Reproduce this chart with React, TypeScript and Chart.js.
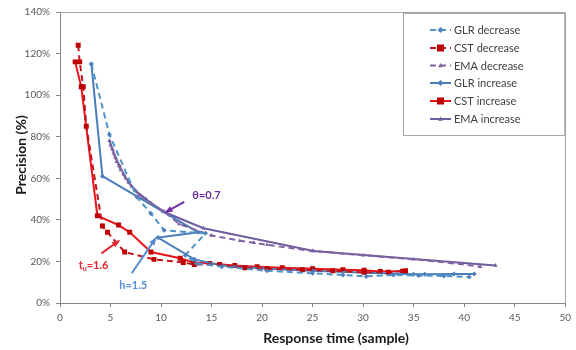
import React, { useEffect, useRef } from "react";
import { Chart, registerables } from "chart.js";

Chart.register(...registerables);

// ---- Data (x = response time in samples, y = precision in %) ----
const glrDecX = [3.1, 4.9, 7.6, 9.0, 10.3, 14.4, 12.4, 13.5, 16.0, 20.5, 25.0, 28.0, 30.3, 33.0, 35.5, 38.0, 40.5];
const glrDecY = [115, 81, 51, 43, 35, 33.5, 23, 19, 17.5, 15.5, 14.3, 13.5, 12.8, 13.5, 13.2, 13, 12.5];

const cstDecX = [1.8, 1.95, 2.3, 2.6, 4.2, 4.7, 6.4, 9.3, 12.2, 13.3, 15.8, 18.3, 20.5, 24.0, 27.0, 30.1, 32.5, 34.2];
const cstDecY = [124, 116, 104, 85, 37, 34, 24.5, 21, 19.5, 18.5, 18.5, 17, 16.5, 16, 15.5, 14.8, 14.8, 15.5];

const emaDecX = [5.0, 5.3, 5.6, 6.0, 6.5, 7.1, 7.8, 9.0, 10.3, 11.8, 15.0, 17.8, 19.2, 20.5, 25.0, 30.0, 35.0, 38.8, 41.6];
const emaDecY = [76, 72, 68, 64, 60, 56, 52, 48, 44, 38, 32.5, 30, 29, 28, 25, 23, 21, 19.2, 17.5];

const glrIncX = [3.1, 4.2, 13.7, 9.7, 13.3, 16.0, 20.5, 25.0, 30.3, 35.0, 36.1, 39.0, 41.0];
const glrIncY = [115, 61, 34, 31.5, 21, 18, 16.5, 15.5, 14.5, 13.8, 13.8, 14, 14];

const cstIncX = [1.5, 2.1, 3.7, 5.8, 6.9, 9.0, 11.9, 13.2, 14.8, 17.3, 19.5, 22.0, 25.0, 28.0, 30.1, 31.7, 33.9];
const cstIncY = [116, 104, 42, 37.5, 34, 24.5, 21.5, 19.5, 19, 18, 17.5, 17, 16.5, 16, 15.8, 15.2, 15.3];

const emaIncX = [4.9, 5.2, 5.5, 5.9, 6.3, 6.8, 7.5, 8.5, 10.2, 14.2, 25.1, 43.1];
const emaIncY = [78, 74, 70, 66, 62, 58, 54, 50, 44, 36, 25, 18];

const seriesNames = ["GLR decrease", "CST decrease", "EMA decrease", "GLR increase", "CST increase", "EMA increase"];
const xTicksMax = 50;
const yTicksMax = 140;

const FONT = "Lato, 'Open Sans', sans-serif";

function pts(xs: number[], ys: number[]) {
  return xs.map((x, i) => ({ x, y: ys[i] }));
}

const extrasPlugin = {
  id: "extras",
  afterDatasetsDraw(chart: any) {
    const { ctx, scales } = chart;
    const xs = scales.x;
    const ys = scales.y;
    const P = (x: number, y: number) => [xs.getPixelForValue(x), ys.getPixelForValue(y)];

    const arrow = (from: number[], to: number[], color: string) => {
      const [x1, y1] = P(from[0], from[1]);
      const [x2, y2] = P(to[0], to[1]);
      ctx.save();
      ctx.strokeStyle = color;
      ctx.fillStyle = color;
      ctx.lineWidth = 2;
      ctx.beginPath();
      ctx.moveTo(x1, y1);
      ctx.lineTo(x2, y2);
      ctx.stroke();
      const a = Math.atan2(y2 - y1, x2 - x1);
      const L = 7;
      ctx.beginPath();
      ctx.moveTo(x2 + Math.cos(a) * 2, y2 + Math.sin(a) * 2);
      ctx.lineTo(x2 - L * Math.cos(a - 0.45), y2 - L * Math.sin(a - 0.45));
      ctx.lineTo(x2 - L * Math.cos(a + 0.45), y2 - L * Math.sin(a + 0.45));
      ctx.closePath();
      ctx.fill();
      ctx.restore();
    };

    // theta annotation
    arrow([12.3, 48.7], [10.5, 43.8], "#7030A0");
    ctx.save();
    ctx.font = `bold 11px ${FONT}`;
    ctx.fillStyle = "#7030A0";
    ctx.textBaseline = "middle";
    let [tx, ty] = P(13.1, 51.6);
    ctx.fillText("θ=0.7", tx, ty);

    // t_u annotation
    ctx.fillStyle = "#E8262B";
    [tx, ty] = P(1.85, 18.2);
    ctx.fillText("t", tx, ty);
    const tw = ctx.measureText("t").width;
    ctx.font = `bold 7px ${FONT}`;
    ctx.fillText("u", tx + tw, ty + 4);
    const uw = ctx.measureText("u").width;
    ctx.font = `bold 11px ${FONT}`;
    ctx.fillText("=1.6", tx + tw + uw, ty);

    // h annotation
    ctx.fillStyle = "#558ED5";
    [tx, ty] = P(5.86, 8.6);
    ctx.fillText("h=1.5", tx, ty);
    ctx.restore();
    arrow([4.1, 23.9], [5.8, 29.8], "#E8262B");
    arrow([7.1, 14.3], [9.45, 31.0], "#558ED5");
  },
  afterDraw(chart: any) {
    const { ctx, chartArea } = chart;
    ctx.save();
    // top & right border of plot area
    ctx.strokeStyle = "#A6A6A6";
    ctx.lineWidth = 1;
    ctx.beginPath();
    ctx.moveTo(Math.round(chartArea.left) + 0.5, Math.round(chartArea.top) + 0.5);
    ctx.lineTo(Math.round(chartArea.right) + 0.5, Math.round(chartArea.top) + 0.5);
    ctx.lineTo(Math.round(chartArea.right) + 0.5, Math.round(chartArea.bottom) + 0.5);
    ctx.stroke();

    // legend box
    const bx = 403.5, by = 13.5, bw = chartArea.right - 403 - 1, bh = 122;
    ctx.fillStyle = "#FFFFFF";
    ctx.fillRect(bx, by, bw, bh);
    ctx.strokeStyle = "#A6A6A6";
    ctx.strokeRect(bx, by, bw, bh);

    const rowY = [30, 48, 65.5, 83, 101, 119];
    chart.data.datasets.forEach((ds: any, i: number) => {
      const y = rowY[i];
      ctx.save();
      ctx.strokeStyle = ds.borderColor;
      ctx.lineWidth = 2;
      ctx.setLineDash(ds.borderDash || []);
      ctx.beginPath();
      ctx.moveTo(430, y);
      ctx.lineTo(451, y);
      ctx.stroke();
      ctx.setLineDash([]);
      ctx.fillStyle = ds.pointBackgroundColor;
      const r = ds.pointRadius;
      ctx.beginPath();
      if (ds.pointStyle === "rect") {
        ctx.fillRect(440.5 - r, y - r, 2 * r, 2 * r);
      } else if (ds.pointStyle === "rectRot") {
        ctx.moveTo(440.5, y - r - 0.5);
        ctx.lineTo(440.5 + r + 0.5, y);
        ctx.lineTo(440.5, y + r + 0.5);
        ctx.lineTo(440.5 - r - 0.5, y);
        ctx.closePath();
        ctx.fill();
      } else {
        ctx.moveTo(440.5, y - r);
        ctx.lineTo(440.5 + r, y + r * 0.7);
        ctx.lineTo(440.5 - r, y + r * 0.7);
        ctx.closePath();
        ctx.fill();
      }
      ctx.fillStyle = "#404040";
      ctx.font = `11px ${FONT}`;
      ctx.textBaseline = "middle";
      ctx.fillText(ds.label, 454, y + 0.5);
      ctx.restore();
    });

    // axis titles
    ctx.fillStyle = "#1A1A1A";
    ctx.font = `bold 14px ${FONT}`;
    ctx.textAlign = "center";
    ctx.textBaseline = "middle";
    ctx.fillText("Response time (sample)", 336, 338);
    ctx.translate(21, 155);
    ctx.rotate(-Math.PI / 2);
    ctx.fillText("Precision (%)", 0, 0);
    ctx.restore();
  },
};

export default function App() {
  const ref = useRef<HTMLCanvasElement | null>(null);

  useEffect(() => {
    if (!ref.current) return;
    const mk = (
      i: number,
      xs: number[],
      ys: number[],
      color: string,
      markerColor: string,
      style: string,
      r: number,
      dashed: boolean
    ) => ({
      label: seriesNames[i],
      data: pts(xs, ys),
      showLine: true,
      borderColor: color,
      borderWidth: 2,
      borderDash: dashed ? [6, 4] : [],
      pointStyle: style,
      pointRadius: r,
      pointBackgroundColor: markerColor,
      pointBorderColor: markerColor,
      pointBorderWidth: 0,
      tension: 0,
      fill: false,
    });

    const chart = new Chart(ref.current, {
      type: "scatter",
      data: {
        datasets: [
          mk(0, glrDecX, glrDecY, "#4F94C8", "#4F81BD", "rectRot", 2.5, true),
          mk(1, cstDecX, cstDecY, "#C0141C", "#C00000", "rect", 3.5, true),
          mk(2, emaDecX, emaDecY, "#8064A2", "#8064A2", "triangle", 2.5, true),
          mk(3, glrIncX, glrIncY, "#4A7EBB", "#4A7EBB", "rectRot", 2.5, false),
          mk(4, cstIncX, cstIncY, "#E8141C", "#C00000", "rect", 3.5, false),
          mk(5, emaIncX, emaIncY, "#6E5E9E", "#6E5E9E", "triangle", 2.5, false),
        ] as any,
      },
      options: {
        responsive: false,
        animation: false,
        layout: { padding: { top: 10, right: 6, left: 0, bottom: 0 } },
        plugins: { legend: { display: false }, tooltip: { enabled: false } },
        scales: {
          x: {
            type: "linear",
            min: 0,
            max: xTicksMax,
            ticks: { stepSize: 5, color: "#595959", font: { family: FONT, size: 10 }, padding: 5 },
            grid: { display: true, drawOnChartArea: false, drawTicks: true, tickLength: 4, color: "#868686" },
            border: { color: "#868686", width: 1 },
            afterFit: (s: any) => {
              s.height = 47;
            },
          },
          y: {
            type: "linear",
            min: 0,
            max: yTicksMax,
            ticks: {
              stepSize: 20,
              color: "#595959",
              font: { family: FONT, size: 10 },
              padding: 6,
              callback: (v: any) => v + "%",
            },
            grid: { display: true, drawOnChartArea: false, drawTicks: true, tickLength: 4, color: "#868686" },
            border: { color: "#868686", width: 1 },
            afterFit: (s: any) => {
              s.width = 60;
            },
          },
        },
      } as any,
      plugins: [extrasPlugin],
    });
    return () => chart.destroy();
  }, []);

  return (
    <div style={{ position: "fixed", left: 0, top: 0, width: 576, height: 350, background: "#fff" }}>
      <canvas ref={ref} width={576} height={350} style={{ display: "block" }} />
    </div>
  );
}
